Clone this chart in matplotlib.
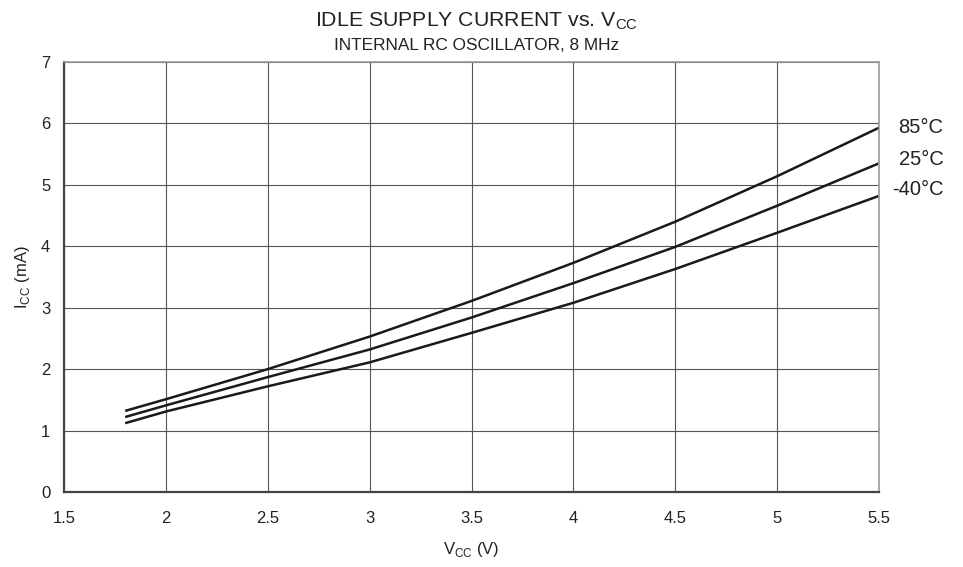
import numpy as np
import matplotlib.pyplot as plt

plt.rcParams['font.family'] = ['Liberation Sans', 'DejaVu Sans']
plt.rcParams['mathtext.fontset'] = 'custom'
plt.rcParams['mathtext.rm'] = 'Liberation Sans'

# supply voltage (V)
vcc = [1.8, 2.0, 2.5, 3.0, 3.5, 4.0, 4.5, 5.0, 5.5]
# idle current (mA) per temperature
icc_85 = [1.32, 1.51, 2.00, 2.53, 3.11, 3.73, 4.40, 5.14, 5.93]
icc_25 = [1.22, 1.41, 1.87, 2.32, 2.84, 3.40, 3.99, 4.66, 5.35]
icc_m40 = [1.12, 1.31, 1.72, 2.11, 2.59, 3.08, 3.63, 4.22, 4.82]
temps = ['85°C', '25°C', '-40°C']
label_y = [5.94, 5.42, 4.92]

fig = plt.figure(figsize=(9.63, 5.67), dpi=100)
ax = fig.add_axes([0.0665, 0.1323, 0.8463, 0.7584])

for ys in (icc_85, icc_25, icc_m40):
    ax.plot(vcc, ys, color='#1a1a1a', lw=1.8, solid_capstyle='butt')

ax.set_xlim(1.5, 5.5)
ax.set_ylim(0, 7)
ax.set_xticks(np.arange(1.5, 5.51, 0.5))
ax.set_xticklabels(['1.5', '2', '2.5', '3', '3.5', '4', '4.5', '5', '5.5'])
ax.set_yticks(range(0, 8))
ax.grid(True, color='#555555', lw=0.8)
ax.tick_params(length=0, labelsize=12, pad=10, colors='#222222')
ax.tick_params(axis='x', pad=14)

for s in ('left', 'bottom'):
    ax.spines[s].set_color('#444444')
    ax.spines[s].set_linewidth(1.6)
for s in ('top', 'right'):
    ax.spines[s].set_color('#999999')
    ax.spines[s].set_linewidth(1.2)

for t, y in zip(temps, label_y):
    ax.text(1.079, y, t, transform=ax.get_yaxis_transform(), ha='right',
            va='center', fontsize=14.5, color='#222222')

ax.set_xlabel(r'V$_{\mathregular{CC}}$ (V)', fontsize=12, labelpad=10, color='#222222')
ax.set_ylabel(r'I$_{\mathregular{CC}}$ (mA)', fontsize=12, labelpad=6, color='#222222')

fig.text(0.495, 0.962, r'IDLE SUPPLY CURRENT vs. V$_{\mathregular{CC}}$', ha='center',
         va='center', fontsize=15.3, color='#222222')
fig.text(0.495, 0.919, 'INTERNAL RC OSCILLATOR, 8 MHz', ha='center', va='center',
         fontsize=12.4, color='#222222')

fig.savefig('out.png', dpi=100)
